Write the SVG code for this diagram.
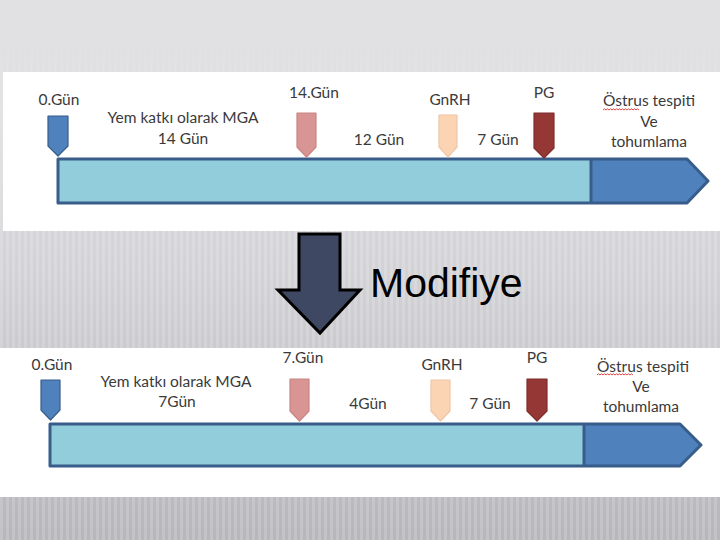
<svg xmlns="http://www.w3.org/2000/svg" width="720" height="540" viewBox="0 0 720 540">
<defs>
<linearGradient id="bg" x1="0" y1="0" x2="0" y2="1">
<stop offset="0" stop-color="#e1e1e3"/>
<stop offset="0.12" stop-color="#e0e0e2"/>
<stop offset="0.5" stop-color="#d3d3d7"/>
<stop offset="1" stop-color="#b6b6bb"/>
</linearGradient>
<pattern id="stripes" width="6" height="540" patternUnits="userSpaceOnUse">
<rect x="0" y="0" width="3" height="540" fill="#ffffff" opacity="0.18"/>
</pattern>
<linearGradient id="fade" x1="0" y1="0" x2="0" y2="1">
<stop offset="0" stop-color="#fff" stop-opacity="0"/>
<stop offset="0.06" stop-color="#fff" stop-opacity="0"/>
<stop offset="0.2" stop-color="#fff" stop-opacity="1"/>
<stop offset="1" stop-color="#fff" stop-opacity="1"/>
</linearGradient>
<mask id="m"><rect width="720" height="540" fill="url(#fade)"/></mask>
</defs>
<style>
.t{font-family:Lato,"Liberation Sans",sans-serif;font-size:15.5px;fill:#3a3a3a;text-anchor:middle}
.bar{fill:#4f81bd}
.light{fill:#92cddc}
.edge{fill:none;stroke:#385d8a;stroke-width:3;stroke-linejoin:round}
.mk{stroke-width:1.2;stroke-linejoin:round}
.blue{fill:#4f81bd;stroke:#385d8a}
.pink{fill:#d99594;stroke:#c88584}
.peach{fill:#fbd4b4;stroke:#efc6a6}
.red{fill:#953735;stroke:#7f2d2c}
.wavy{fill:none;stroke:#e03030;stroke-width:0.9}
</style>
<rect width="720" height="540" fill="url(#bg)"/>
<rect width="720" height="540" fill="url(#stripes)" mask="url(#m)"/>

<rect id="panel-top" x="3" y="72" width="717" height="159" fill="#ffffff"/>
<rect id="panel-bottom" x="0" y="348" width="720" height="149" fill="#ffffff"/>

<g id="timeline-top">
<path class="bar" d="M58,159 H687 L708,181 L687,203 H58 Z"/>
<rect class="light" x="58" y="159" width="533" height="44"/>
<line x1="591" y1="159" x2="591" y2="203" stroke="#385d8a" stroke-width="3"/>
<path class="edge" d="M58,159 H687 L708,181 L687,203 H58 Z"/>
</g>
<g id="top-day0">
<path class="mk blue" d="M48,116 H68 V146 L58,156 L48,146 Z"/>
<text class="t" x="59" y="105">0.Gün</text>
</g>
<g id="top-mga">
<text class="t" x="183" y="123">Yem katkı olarak MGA</text>
<text class="t" x="183" y="144">14 Gün</text>
</g>
<g id="top-day14">
<path class="mk pink" d="M297,113 H316 V147 L306.5,157 L297,147 Z"/>
<text class="t" x="314" y="98">14.Gün</text>
</g>
<g id="top-12">
<text class="t" x="379" y="145">12 Gün</text>
</g>
<g id="top-gnrh">
<path class="mk peach" d="M439,115 H457 V147 L448,157 L439,147 Z"/>
<text class="t" x="450" y="105">GnRH</text>
</g>
<g id="top-7">
<text class="t" x="498" y="145">7 Gün</text>
</g>
<g id="top-pg">
<path class="mk red" d="M534,113 H554 V148 L544,158 L534,148 Z"/>
<text class="t" x="544" y="98">PG</text>
</g>
<g id="top-ostrus">
<text class="t" x="649" y="106">Östrus tespiti</text>
<path class="wavy" d="M603,110 l1.5,-1.2 l1.5,1.2 l1.5,-1.2 l1.5,1.2 l1.5,-1.2 l1.5,1.2 l1.5,-1.2 l1.5,1.2 l1.5,-1.2 l1.5,1.2 l1.5,-1.2 l1.5,1.2 l1.5,-1.2 l1.5,1.2 l1.5,-1.2 l1.5,1.2 l1.5,-1.2 l1.5,1.2 l1.5,-1.2 l1.5,1.2 l1.5,-1.2 l1.5,1.2 l1.5,-1.2 l1.5,1.2"/>
<text class="t" x="649" y="127">Ve</text>
<text class="t" x="649" y="147">tohumlama</text>
</g>

<g id="modify-arrow">
<path d="M299,234 H340 V290 H360 L320,333 L278,290 H299 Z" fill="#3e4862" stroke="#000" stroke-width="3" stroke-linejoin="miter"/>
<text x="370" y="297" font-family="'Liberation Sans',Arial,sans-serif" font-size="41" fill="#000">Modifiye</text>
</g>

<g id="timeline-bottom">
<path class="bar" d="M50,424 H680 L701,445 L680,466 H50 Z"/>
<rect class="light" x="50" y="424" width="534" height="42"/>
<line x1="584" y1="424" x2="584" y2="466" stroke="#385d8a" stroke-width="3"/>
<path class="edge" d="M50,424 H680 L701,445 L680,466 H50 Z"/>
</g>
<g id="bot-day0">
<path class="mk blue" d="M41,380 H60 V410 L50.5,420 L41,410 Z"/>
<text class="t" x="52" y="370">0.Gün</text>
</g>
<g id="bot-mga">
<text class="t" x="176" y="387">Yem katkı olarak MGA</text>
<text class="t" x="177" y="407">7Gün</text>
</g>
<g id="bot-day7">
<path class="mk pink" d="M290,379 H309 V411 L299.5,421 L290,411 Z"/>
<text class="t" x="303" y="363">7.Gün</text>
</g>
<g id="bot-4">
<text class="t" x="368" y="409">4Gün</text>
</g>
<g id="bot-gnrh">
<path class="mk peach" d="M431,380 H450 V411 L440.5,421 L431,411 Z"/>
<text class="t" x="442" y="370">GnRH</text>
</g>
<g id="bot-7">
<text class="t" x="490" y="409">7 Gün</text>
</g>
<g id="bot-pg">
<path class="mk red" d="M527,379 H547 V411 L537,421 L527,411 Z"/>
<text class="t" x="537" y="363">PG</text>
</g>
<g id="bot-ostrus">
<text class="t" x="643" y="372">Östrus tespiti</text>
<path class="wavy" d="M597,375 l1.5,-1.2 l1.5,1.2 l1.5,-1.2 l1.5,1.2 l1.5,-1.2 l1.5,1.2 l1.5,-1.2 l1.5,1.2 l1.5,-1.2 l1.5,1.2 l1.5,-1.2 l1.5,1.2 l1.5,-1.2 l1.5,1.2 l1.5,-1.2 l1.5,1.2 l1.5,-1.2 l1.5,1.2 l1.5,-1.2 l1.5,1.2 l1.5,-1.2 l1.5,1.2 l1.5,-1.2 l1.5,1.2"/>
<text class="t" x="641" y="392">Ve</text>
<text class="t" x="641" y="412">tohumlama</text>
</g>
</svg>
